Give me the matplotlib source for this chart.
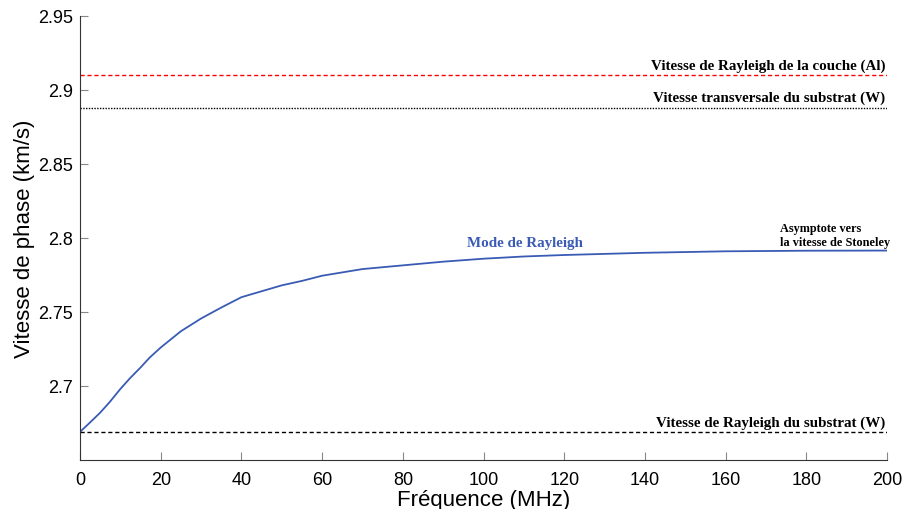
import matplotlib
matplotlib.use('Agg')
import matplotlib.pyplot as plt

# données
freq = [0, 2.5, 5, 7.4, 10, 12.4, 15, 17.3, 20, 25, 30, 35, 40, 45, 50,
        55, 60, 70, 80, 90, 100, 110, 120, 140, 160, 180, 200]
v_rayleigh = [2.669, 2.6754, 2.682, 2.6893, 2.698, 2.7053, 2.7125, 2.7193,
              2.726, 2.737, 2.7456, 2.753, 2.760, 2.764, 2.768, 2.771,
              2.7745, 2.779, 2.7815, 2.784, 2.786, 2.7875, 2.7885, 2.790,
              2.791, 2.7914, 2.7915]

v_rayleigh_couche = 2.910
v_transverse_substrat = 2.888
v_rayleigh_substrat = 2.669

yticks = [2.7, 2.75, 2.8, 2.85, 2.9, 2.95]
yticklabels = ['2.7', '2.75', '2.8', '2.85', '2.9', '2.95']
xticks = [0, 20, 40, 60, 80, 100, 120, 140, 160, 180, 200]

blue = '#3a5bb5'
serif = 'Liberation Serif'
sans = 'Liberation Sans'

fig = plt.figure(figsize=(9.23, 5.10), dpi=100)
ax = fig.add_axes([0.0867, 0.0961, 0.8743, 0.8706])

ax.plot(freq, v_rayleigh, color=blue, lw=1.3)
ax.axhline(v_rayleigh_couche, color='red', ls=(0, (3, 2)), lw=1)
ax.axhline(v_transverse_substrat, color='black', ls=(0, (1, 1)), lw=1)
ax.axhline(v_rayleigh_substrat, color='black', ls=(0, (3, 2)), lw=1)

ax.text(199.6, v_rayleigh_couche + 0.0022, 'Vitesse de Rayleigh de la couche (Al)',
        ha='right', va='bottom', fontsize=10.8, fontweight='bold', family=serif)
ax.text(199.6, v_transverse_substrat + 0.0022, 'Vitesse transversale du substrat (W)',
        ha='right', va='bottom', fontsize=10.8, fontweight='bold', family=serif)
ax.text(199.6, v_rayleigh_substrat + 0.0022, 'Vitesse de Rayleigh du substrat (W)',
        ha='right', va='bottom', fontsize=10.8, fontweight='bold', family=serif)
ax.text(110.3, 2.7925, 'Mode de Rayleigh', ha='center', va='bottom', color=blue,
        fontsize=10.8, fontweight='bold', family=serif)
ax.text(173.6, 2.7935, 'Asymptote vers\nla vitesse de Stoneley', ha='left',
        va='bottom', fontsize=8.8, fontweight='bold', family=serif, linespacing=1.2)

ax.set_xlim(0, 200)
ax.set_ylim(2.65, 2.95)
ax.set_xticks(xticks)
ax.set_yticks(yticks)
ax.set_yticklabels(yticklabels)

for s in ['top', 'right']:
    ax.spines[s].set_visible(False)
for s in ['left', 'bottom']:
    ax.spines[s].set_color('#333333')
ax.tick_params(direction='in', length=6, color='#888888', labelsize=13)
ax.tick_params(axis='x', pad=8)
ax.tick_params(axis='y', pad=5)
for lab in ax.get_xticklabels() + ax.get_yticklabels():
    lab.set_family(sans)

ax.set_xlabel('Fréquence (MHz)', fontsize=16, family=sans, labelpad=1)
ax.set_ylabel('Vitesse de phase (km/s)', fontsize=16, family=sans, labelpad=2)

fig.savefig('out.png', dpi=100)
